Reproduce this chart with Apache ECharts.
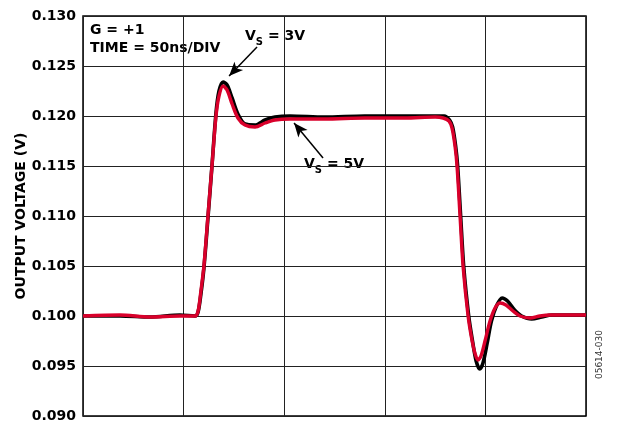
<!DOCTYPE html>
<html>
<head>
<meta charset="utf-8">
<script src="https://cdn.jsdelivr.net/npm/echarts@6/dist/echarts.min.js"></script>
<style>html,body{margin:0;padding:0;background:#fff}#c{width:624px;height:424px}</style>
</head>
<body>
<div id="c"></div>
<script>
// Time in ns (50 ns/div), output voltage in V
const timeVs5 = [0, 18.4, 33.3, 48.2, 55.7, 57.2, 58.6, 60.1, 62.1, 64.1, 66.1, 67.6, 69.6, 71.6, 74.1, 77, 80.5, 85.5, 90.5, 95.4, 102.9, 120, 140, 160, 175, 179, 181.9, 183.4, 184.9, 185.9, 187.4, 188.9, 191.4, 193.4, 194.9, 196.3, 197.8, 199.8, 202.3, 204.8, 207.3, 210.2, 213.7, 217.2, 222.2, 227.1, 232.1, 250];
const vs5 = [0.1000, 0.1001, 0.0999, 0.1000, 0.1000, 0.1005, 0.1025, 0.1050, 0.1100, 0.1150, 0.1200, 0.1220, 0.1230, 0.1226, 0.1212, 0.1198, 0.1191, 0.1189, 0.1193, 0.1196, 0.1197, 0.1197, 0.1198, 0.1198, 0.1199, 0.1198, 0.1195, 0.1188, 0.1170, 0.1150, 0.1100, 0.1050, 0.1000, 0.0975, 0.0962, 0.0956, 0.0960, 0.0975, 0.0995, 0.1008, 0.1013, 0.1011, 0.1005, 0.1000, 0.0998, 0.1000, 0.1001, 0.1001];

const timeVs3 = [0, 18.4, 33.3, 48.2, 55.7, 57.2, 58.6, 60.1, 62.1, 64.1, 66.1, 67.6, 69.6, 71.6, 74.1, 77, 80.5, 85.5, 90.5, 95.4, 102.9, 120, 140, 160, 175, 179.5, 182.2, 183.7, 185.2, 186.2, 187.7, 189.2, 191.7, 193.6, 195.4, 197.2, 198.8, 200.8, 203, 205.5, 208.3, 211, 214.5, 218, 223, 228, 233, 250];
const vs3 = [0.1000, 0.1000, 0.0999, 0.1001, 0.1000, 0.1004, 0.1022, 0.1048, 0.1098, 0.1150, 0.1203, 0.1225, 0.1234, 0.1231, 0.1218, 0.1202, 0.1192, 0.1191, 0.1196, 0.1199, 0.1200, 0.1199, 0.1200, 0.1200, 0.1200, 0.1200, 0.1196, 0.1189, 0.1170, 0.1150, 0.1100, 0.1050, 0.1000, 0.0975, 0.0955, 0.0947, 0.0953, 0.0972, 0.0995, 0.1010, 0.1018, 0.1015, 0.1006, 0.1000, 0.0997, 0.0999, 0.1001, 0.1001];

const yTicks = [0.090, 0.095, 0.100, 0.105, 0.110, 0.115, 0.120, 0.125, 0.130];
const xTicks = [0, 50, 100, 150, 200, 250];

const pair = (xs, ys) => xs.map((x, i) => [x, ys[i]]);
const FONT = '"DejaVu Sans", Verdana, sans-serif';

const chart = echarts.init(document.getElementById('c'), null, {renderer: 'canvas'});
chart.setOption({
  animation: false,
  backgroundColor: '#fff',
  grid: {left: 83, top: 16, right: 38, bottom: 8, show: true, borderColor: '#000', borderWidth: 1.5},
  xAxis: {
    type: 'value', min: xTicks[0], max: xTicks[xTicks.length - 1], interval: 50,
    axisLine: {show: false}, axisTick: {show: false}, axisLabel: {show: false},
    splitLine: {show: true, lineStyle: {color: '#222', width: 1}}
  },
  yAxis: {
    type: 'value', min: yTicks[0], max: yTicks[yTicks.length - 1], interval: 0.005,
    name: 'OUTPUT VOLTAGE (V)', nameLocation: 'middle', nameGap: 55, nameMoveOverlap: false,
    nameTextStyle: {fontFamily: FONT, fontWeight: 'bold', fontSize: 14, color: '#000'},
    axisLine: {show: false}, axisTick: {show: false},
    axisLabel: {fontFamily: FONT, fontWeight: 'bold', fontSize: 14, color: '#000', margin: 7,
      formatter: v => v.toFixed(3)},
    splitLine: {show: true, lineStyle: {color: '#222', width: 1}}
  },
  series: [
    {
      name: 'VS = 3V', type: 'line', data: pair(timeVs3, vs3), smooth: 0.3, symbol: 'none',
      lineStyle: {color: '#000', width: 3.6}, z: 2,
      markLine: {
        silent: true, symbol: ['none', 'arrow'], symbolSize: [9, 14],
        lineStyle: {color: '#000', width: 1.5, type: 'solid'}, label: {show: false},
        data: [
          [{coord: [86.5, 0.1269]}, {coord: [72.6, 0.1240]}],
          [{coord: [119.3, 0.1158]}, {coord: [104.9, 0.1193]}]
        ]
      }
    },
    {
      name: 'VS = 5V', type: 'line', data: pair(timeVs5, vs5), smooth: 0.3, symbol: 'none',
      lineStyle: {color: '#D9002B', width: 3.4}, z: 3
    }
  ],
  graphic: [
    {type: 'text', left: 90, top: 23, style: {text: 'G = +1', font: 'bold 14px ' + FONT, fill: '#000'}},
    {type: 'text', left: 90, top: 41, style: {text: 'TIME = 50ns/DIV', font: 'bold 14px ' + FONT, fill: '#000'}},
    {type: 'text', left: 245, top: 29, style: {
      text: '{a|V}{b|S}{a| = 3V}', rich: {
        a: {font: 'bold 14px ' + FONT, fill: '#000', verticalAlign: 'top'},
        b: {font: 'bold 10px ' + FONT, fill: '#000', padding: [8, 0, 0, 0]}
      }}},
    {type: 'text', left: 304, top: 157, style: {
      text: '{a|V}{b|S}{a| = 5V}', rich: {
        a: {font: 'bold 14px ' + FONT, fill: '#000', verticalAlign: 'top'},
        b: {font: 'bold 10px ' + FONT, fill: '#000', padding: [8, 0, 0, 0]}
      }}},
    {type: 'text', left: 595, top: 330, rotation: Math.PI / 2, originX: 0, originY: 0,
      style: {text: '05614-030', font: '9px ' + FONT, fill: '#333'}}
  ]
});
</script>
</body>
</html>
